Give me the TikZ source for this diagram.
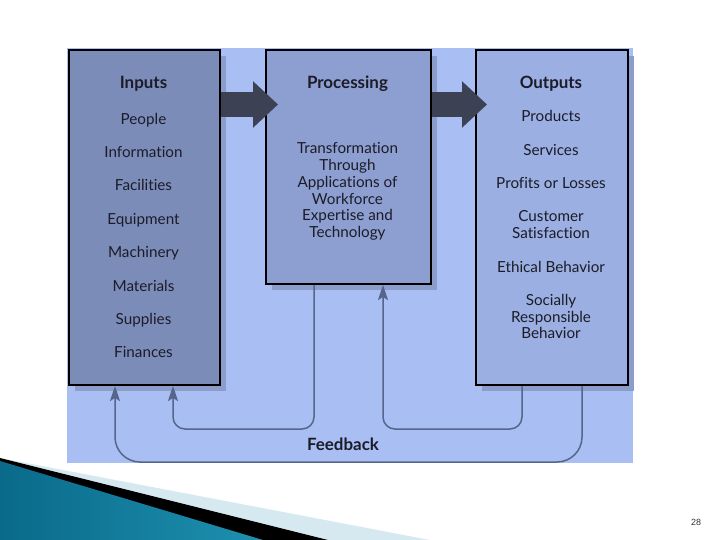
\documentclass[tikz,border=0pt]{standalone}
\usepackage{fontspec}
\setmainfont[Ligatures=NoCommon]{Lato}
\newfontfamily\pagefont{Liberation Sans}
\usetikzlibrary{arrows.meta,shadows}
\definecolor{panelc}{HTML}{A9BEF2}
\definecolor{inpc}{HTML}{7C8CB9}
\definecolor{procc}{HTML}{8D9ED0}
\definecolor{outc}{HTML}{9BAFE2}
\definecolor{shadc}{HTML}{8C9DCB}
\definecolor{arrc}{HTML}{3C4253}
\definecolor{fbc}{HTML}{56658A}
\definecolor{txtc}{HTML}{1C1C28}
\definecolor{tealA}{HTML}{0A6A8A}
\definecolor{tealB}{HTML}{4DBBDD}
\definecolor{tealC}{HTML}{1E90B0}
\definecolor{bandc}{HTML}{D6E9F0}
\tikzset{
  box/.style={draw=black, line width=2bp, anchor=north west, inner sep=0pt,
    drop shadow={shadow xshift=6bp, shadow yshift=-6bp, fill=shadc, opacity=1}},
  lbl/.style={text=txtc, font=\fontsize{15.3}{16.8}\selectfont, align=center, inner sep=0pt},
  sl/.style={lbl, text height=11bp, text depth=3.5bp, yshift=-2.5bp},
  hdr/.style={sl, font=\fontsize{17}{18}\selectfont\bfseries},
  bigarrow/.style={draw=arrc, line width=25bp, -{Triangle[length=25bp, width=45bp]}},
  fb/.style={draw=fbc, line width=1.5bp, -{Stealth[length=15bp, width=10bp, inset=3bp]}}
}
\begin{document}
\begin{tikzpicture}[x=1bp, y=-1bp]
\useasboundingbox (0,0) rectangle (720,540);
\fill[white] (0,0) rectangle (720,540);
% panel
\fill[panelc] (67,48) rectangle (633,463);
% boxes
\node[box, fill=inpc, minimum width=151bp, minimum height=335bp] (inp) at (68,49) {};
\node[box, fill=procc, minimum width=165bp, minimum height=234bp] (proc) at (265,49) {};
\node[box, fill=outc, minimum width=152bp, minimum height=335bp] (out) at (475,49) {};
% big arrows
\coordinate (ay) at (0,104.5);
\draw[bigarrow] (inp.east |- ay) -- ([xshift=13bp]proc.west |- ay);
\draw[bigarrow] (proc.east |- ay) -- ([xshift=12bp]out.west |- ay);
% inputs text
\node[hdr] (tin) at (143.5,82) {Inputs};
\node[sl] (i1) at (143.5,118) {People};
\node[sl] (i2) at (143.5,151) {Information};
\node[sl] (i3) at (143.5,184) {Facilities};
\node[sl] (i4) at (143.5,218) {Equipment};
\node[sl] (i5) at (143.5,251) {Machinery};
\node[sl] (i6) at (143.5,285) {Materials};
\node[sl] (i7) at (143.5,318) {Supplies};
\node[sl] (i8) at (143.5,351) {Finances};
% processing text
\node[hdr] (tproc) at (347.5,82) {Processing};
\node[lbl] (p1) at (347.5,191.5) {Transformation\\Through\\Applications of\\Workforce\\Expertise and\\Technology};
% outputs text
\node[hdr] (tout) at (551,82) {Outputs};
\node[sl] (o1) at (551,115) {Products};
\node[sl] (o2) at (551,149) {Services};
\node[sl] (o3) at (551,182) {Profits or Losses};
\node[lbl] (o4) at (551,224.5) {Customer\\Satisfaction};
\node[sl] (o5) at (551,266) {Ethical Behavior};
\node[lbl] (o6) at (551,316.5) {Socially\\Responsible\\Behavior};
% feedback
\draw[fb, rounded corners=12bp] ([xshift=-34.5bp]proc.south) -- ++(0,144) -| ([xshift=28.5bp]inp.south);
\draw[fb, rounded corners=12bp] ([xshift=-30bp]out.south) -- ++(0,43) -| ([xshift=34.5bp]proc.south);
\draw[fb, rounded corners=25bp] ([xshift=30bp]out.south) -- ++(0,76) -| ([xshift=-29.5bp]inp.south);
\node[hdr] (fbl) at (343,444) {Feedback};
% decoration
\fill[bandc] (0,458) -- (430,540) -- (0,540) -- cycle;
\fill[black] (0,458) -- (328,540) -- (0,540) -- cycle;
\shade[left color=tealA, middle color=tealB, right color=tealC] (0,461) -- (263,540) -- (0,540) -- cycle;
% page number
\node[font=\pagefont\fontsize{9}{10}\selectfont, text=black!80] (pg) at (696,522) {28};
\end{tikzpicture}
\end{document}
